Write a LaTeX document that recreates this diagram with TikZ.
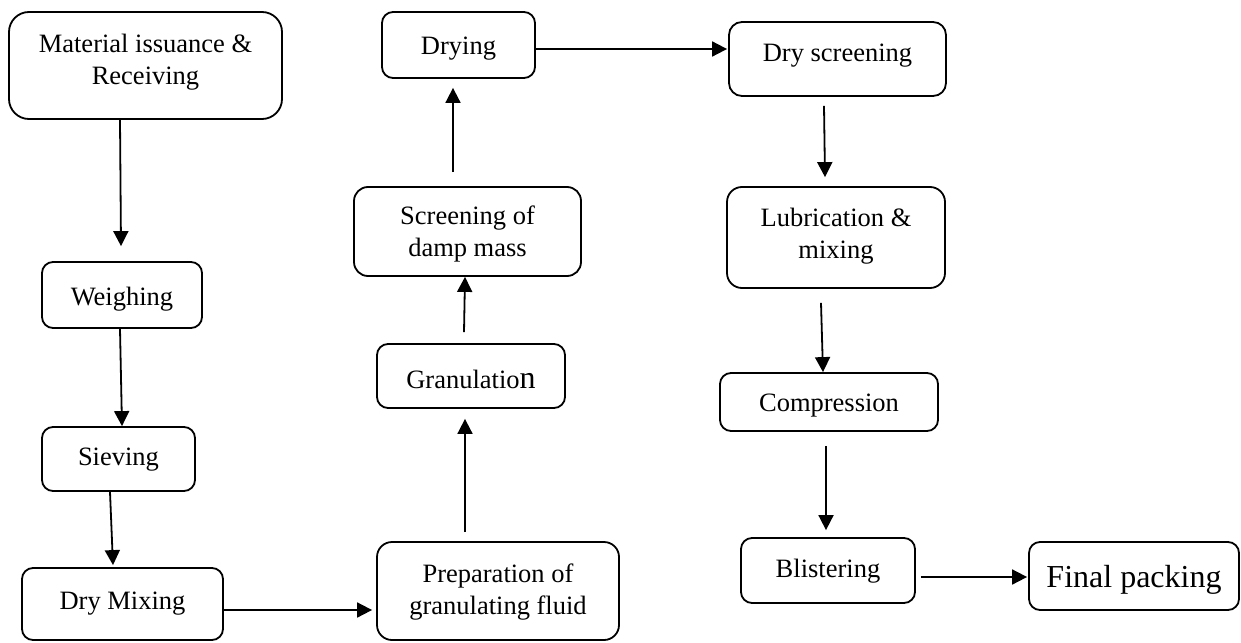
\documentclass[tikz,border=0pt]{standalone}
\usepackage{fontspec}
\setmainfont{Liberation Serif}
\usetikzlibrary{arrows.meta}

% lift a box's ink without changing its reported size
\newcommand{\liftink}[2]{\raisebox{#1}[\height][\depth]{#2}}

\begin{document}
\begin{tikzpicture}[x=1pt,y=-1pt,
  stepbox/.style={draw, line width=1.8pt, rounded corners=11pt, inner sep=0pt,
    align=center, font=\fontsize{26.5}{32}\selectfont},
  flow/.style={line width=1.8pt, -{Triangle[length=15pt,width=15pt]}}]
  \useasboundingbox (0,0) rectangle (1241,642);

  % left column
  \node[stepbox, rounded corners=20pt, minimum width=273pt, minimum height=107pt] (mat) at (145.5,65.5)
    {\liftink{3pt}{\begin{tabular}{@{}c@{}}Material issuance \&\\ Receiving\end{tabular}}};
  \node[stepbox, minimum width=160pt, minimum height=66pt] (weigh) at (122,295) {\liftink{-4pt}{Weighing}};
  \node[stepbox, minimum width=153pt, minimum height=64pt] (sieve) at (118.5,459) {\liftink{-1pt}{Sieving}};
  \node[stepbox, minimum width=201pt, minimum height=72pt] (drymix) at (122.5,604) {Dry Mixing};

  % middle column
  \node[stepbox, rounded corners=15pt, minimum width=242pt, minimum height=98pt] (prep) at (498,591)
    {\liftink{-1pt}{\begin{tabular}{@{}c@{}}Preparation of\\ granulating fluid\end{tabular}}};
  \node[stepbox, minimum width=188pt, minimum height=64pt] (gran) at (471,376)
    {\liftink{-3pt}{Granulatio{\fontsize{32}{36}\selectfont n}}};
  \node[stepbox, rounded corners=14pt, minimum width=227pt, minimum height=89pt] (screen) at (467.5,231.5)
    {\liftink{-3pt}{\begin{tabular}{@{}c@{}}Screening of\\ damp mass\end{tabular}}};
  \node[stepbox, minimum width=153pt, minimum height=66pt] (drying) at (458.5,45) {\liftink{-4pt}{Drying}};

  % right column
  \node[stepbox, rounded corners=13pt, minimum width=217pt, minimum height=74pt] (dryscr) at (837.5,59)
    {\liftink{3pt}{Dry screening}};
  \node[stepbox, rounded corners=15pt, minimum width=218pt, minimum height=101pt] (lub) at (836,237.5)
    {\liftink{1pt}{\begin{tabular}{@{}c@{}}Lubrication \&\\ mixing\end{tabular}}};
  \node[stepbox, minimum width=218pt, minimum height=58pt] (comp) at (829,402) {\liftink{-4pt}{Compression}};
  \node[stepbox, minimum width=174pt, minimum height=65pt] (blist) at (828,570.5) {\liftink{-1pt}{Blistering}};
  \node[stepbox, minimum width=210pt, minimum height=68pt, font=\fontsize{32}{38}\selectfont] (final) at (1134,576)
    {\liftink{-4pt}{Final packing}};

  % connectors
  \draw[flow] ([xshift=-25.5pt]mat.south) -- ([xshift=-1pt,yshift=15pt]weigh.north);
  \draw[flow] ([xshift=-2pt]weigh.south) -- ([xshift=3.5pt]sieve.north);
  \draw[flow] ([xshift=-8.5pt]sieve.south) -- ([xshift=-9.5pt,yshift=2pt]drymix.north);
  \draw[flow] ([yshift=-6pt]drymix.east) -- ([xshift=-4pt,yshift=-19pt]prep.west);
  \draw[flow] ([xshift=-33pt,yshift=9pt]prep.north) -- ([xshift=-6pt,yshift=-10pt]gran.south);
  \draw[flow] ([xshift=-7pt,yshift=11pt]gran.north) -- ([xshift=-2.5pt]screen.south);
  \draw[flow] ([xshift=-14.5pt,yshift=14pt]screen.north) -- ([xshift=-5.5pt,yshift=-9pt]drying.south);
  \draw[flow] ([yshift=-4pt]drying.east) -- ([xshift=-1pt,yshift=10pt]dryscr.west);
  \draw[flow] ([xshift=-13.5pt,yshift=-9pt]dryscr.south) -- ([xshift=-11pt,yshift=9pt]lub.north);
  \draw[flow] ([xshift=-15pt,yshift=-14pt]lub.south) -- ([xshift=-6pt]comp.north);
  \draw[flow] ([xshift=-3pt,yshift=-14pt]comp.south) -- ([xshift=-2pt,yshift=7pt]blist.north);
  \draw[flow] ([xshift=5pt,yshift=-6.5pt]blist.east) -- ([xshift=-1pt,yshift=-1pt]final.west);
\end{tikzpicture}
\end{document}
